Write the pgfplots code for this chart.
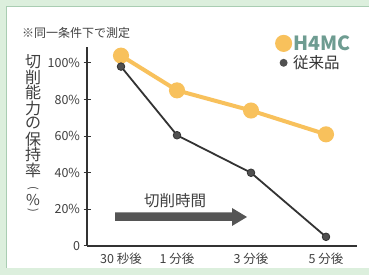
\documentclass[border=0pt]{standalone}
\usepackage{fontspec}
\setmainfont{Noto Sans CJK JP}
\usepackage{pgfplots}
\pgfplotsset{compat=1.18}
\definecolor{bgG}{HTML}{DCEFDD}
\definecolor{frameG}{HTML}{A9CDB2}
\definecolor{orangeC}{HTML}{F8C15C}
\definecolor{lineK}{HTML}{333333}
\definecolor{dotK}{HTML}{505050}
\definecolor{tealT}{HTML}{6E9C91}
\definecolor{txt}{HTML}{404040}
\definecolor{arrowG}{HTML}{555555}
\begin{document}
\begin{tikzpicture}
\useasboundingbox (0pt,0pt) rectangle (369pt,275pt);
\fill[bgG] (0pt,0pt) rectangle (369pt,275pt);
\fill[white] (6pt,7pt) rectangle (375pt,268pt);
\draw[frameG, line width=1pt] (6pt,7pt) -- (6pt,268pt) -- (375pt,268pt);
\node[anchor=west, font=\fontsize{12}{12}\selectfont, text=txt, inner sep=0pt] at (22pt,242pt) {※同一条件下で測定};
\foreach \c [count=\i from 0] in {切,削,能,力,の,保,持,率}{
  \node[font=\fontsize{16}{16}\selectfont, text=txt, inner sep=0pt] at (33pt,{(275-61.5-15.5*\i)*1pt}) {\c};
}
\node[font=\fontsize{11}{11}\selectfont, text=txt, inner sep=0pt] at (33pt,{(275-189)*1pt}) {\rotatebox[origin=c]{-90}{(}};
\node[font=\fontsize{15}{15}\selectfont, text=txt, inner sep=0pt] at (33pt,{(275-200)*1pt}) {\%};
\node[font=\fontsize{11}{11}\selectfont, text=txt, inner sep=0pt] at (33pt,{(275-211)*1pt}) {\rotatebox[origin=c]{-90}{)}};
\begin{axis}[
  at={(87pt,29pt)}, anchor=south west,
  scale only axis, width=270pt, height=199pt,
  xmin=87, xmax=357, ymin=0, ymax=108.7,
  axis lines=left, axis line style={-, draw=lineK, line width=1.2pt},
  xtick={121,177,251,326},
  xticklabels={30 秒後,1 分後,3 分後,5 分後},
  ytick={0,20,40,60,80,100},
  yticklabels={0,20\%,40\%,60\%,80\%,100\%},
  x tick style={draw=none},
  y tick style={draw=lineK, line width=1pt},
  tick align=center, major tick length=7pt,
  ticklabel style={font=\fontsize{12.5}{12.5}\selectfont, text=txt},
  /pgf/number format/assume math mode=true,
  clip=false,
  legend cell align=left,
  legend style={at={(axis description cs:0.696,1.065)}, anchor=north west, draw=none, fill=none, inner sep=0pt, row sep=2pt, nodes={inner sep=1pt}},
]
\fill[arrowG] (axis cs:115,18.3) -- (axis cs:232,18.3) -- (axis cs:232,20.77) -- (axis cs:247,15.85) -- (axis cs:232,10.93) -- (axis cs:232,13.66) -- (axis cs:115,13.66) -- cycle;
\node[font=\fontsize{15.5}{15.5}\selectfont, text=txt, inner sep=0pt] at (axis cs:175,24.6) {切削時間};
\addplot[orangeC, line width=4pt, mark=*, mark size=6pt, mark options={fill=orangeC, draw=none},
  legend image code/.code={\fill[orangeC] (0pt,0pt) circle (6.5pt);}]
  coordinates {(121,104) (177,85) (251,74) (326,61)};
\addlegendentry{\textcolor{tealT}{\fontsize{19.5}{19.5}\selectfont\bfseries H4MC}}
\addplot[lineK, line width=1.8pt, mark=*, mark size=3.8pt, mark options={fill=dotK, draw=lineK, line width=0.8pt},
  legend image code/.code={\fill[dotK] (-6.5pt,0pt) circle (0pt); \fill[dotK] (6.5pt,0pt) circle (0pt); \fill[dotK] (0pt,0pt) circle (3pt);}]
  coordinates {(121,98) (177,60.5) (251,40) (326,5)};
\addlegendentry{\textcolor{lineK}{\fontsize{15.5}{15.5}\selectfont 従来品}}
\end{axis}
\end{tikzpicture}
\end{document}
